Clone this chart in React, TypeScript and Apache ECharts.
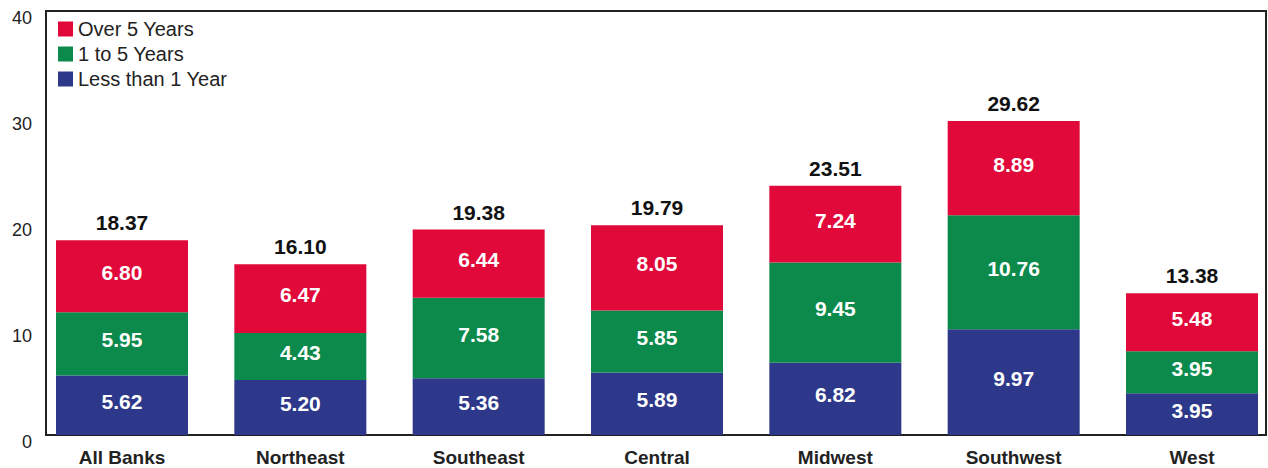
import React, { useEffect, useRef } from "react";
import * as echarts from "echarts";

const categories = ["All Banks", "Northeast", "Southeast", "Central", "Midwest", "Southwest", "West"];
const lessThan1 = [5.62, 5.2, 5.36, 5.89, 6.82, 9.97, 3.95];
const oneTo5 = [5.95, 4.43, 7.58, 5.85, 9.45, 10.76, 3.95];
const over5 = [6.8, 6.47, 6.44, 8.05, 7.24, 8.89, 5.48];
const totals = [18.37, 16.1, 19.38, 19.79, 23.51, 29.62, 13.38];
const totalCaps = [0, 0, 0, 0, 0, 0, 0];
const yTicks = [0, 10, 20, 30, 40];

const FONT = "'Liberation Sans', Arial, Helvetica, sans-serif";
const RED = "#e0093a";
const GREEN = "#0b8a4c";
const BLUE = "#2d388a";

export default function App() {
  const ref = useRef<HTMLDivElement>(null);
  useEffect(() => {
    if (!ref.current) return;
    const chart = echarts.init(ref.current, undefined, { renderer: "svg" });
    const inner = () => ({
      show: true,
      position: "inside" as const,
      offset: [0, -4],
      color: "#fff",
      fontFamily: FONT,
      fontWeight: "bold" as const,
      fontSize: 21,
      formatter: (p: any) => p.value.toFixed(2),
    });
    chart.setOption({
      animation: false,
      backgroundColor: "#fff",
      grid: [
        { left: 46, right: 2, top: 11, bottom: 33, show: true, borderColor: "#222", borderWidth: 2 },
        { left: 122, right: 76, top: 11, bottom: 33 },
      ],
      legend: {
        orient: "vertical",
        left: 53,
        top: 14,
        itemWidth: 15,
        itemHeight: 15,
        itemGap: 5,
        data: ["Over 5 Years", "1 to 5 Years", "Less than 1 Year"],
        textStyle: { fontFamily: FONT, fontSize: 20, color: "#222" },
        icon: "rect",
      },
      xAxis: [
        {
          gridIndex: 0,
          type: "value",
          min: 0,
          max: 1,
          show: false,
        },
        {
          gridIndex: 1,
          type: "category",
          data: categories,
          boundaryGap: false,
          axisLine: { show: false },
          axisTick: { show: false },
          axisLabel: {
            interval: 0,
            margin: 13,
            fontFamily: FONT,
            fontWeight: "bold",
            fontSize: 19,
            color: "#222",
          },
        },
      ],
      yAxis: [
        {
          gridIndex: 0,
          type: "value",
          min: yTicks[0],
          max: yTicks[yTicks.length - 1],
          interval: 10,
          splitLine: { show: false },
          axisLine: { show: false },
          axisTick: { show: false },
          axisLabel: {
            margin: 14,
            fontFamily: FONT,
            fontSize: 18,
            color: "#222",
            verticalAlign: "top",
            lineHeight: 14,
          },
        },
        {
          gridIndex: 1,
          type: "value",
          min: yTicks[0],
          max: yTicks[yTicks.length - 1],
          show: false,
          splitLine: { show: false },
        },
      ],
      series: [
        {
          name: "Less than 1 Year",
          type: "bar",
          stack: "t",
          xAxisIndex: 1,
          yAxisIndex: 1,
          barWidth: 132,
          data: lessThan1,
          itemStyle: { color: BLUE },
          label: inner(),
        },
        {
          name: "1 to 5 Years",
          type: "bar",
          stack: "t",
          xAxisIndex: 1,
          yAxisIndex: 1,
          barWidth: 132,
          data: oneTo5,
          itemStyle: { color: GREEN },
          label: inner(),
        },
        {
          name: "Over 5 Years",
          type: "bar",
          stack: "t",
          xAxisIndex: 1,
          yAxisIndex: 1,
          barWidth: 132,
          data: over5,
          itemStyle: { color: RED },
          label: inner(),
        },
        {
          name: "Total",
          type: "bar",
          stack: "t",
          xAxisIndex: 1,
          yAxisIndex: 1,
          barWidth: 132,
          data: totalCaps,
          itemStyle: { color: RED },
          silent: true,
          label: {
            show: true,
            position: "top",
            distance: 7,
            color: "#111",
            fontFamily: FONT,
            fontWeight: "bold",
            fontSize: 21,
            formatter: (p: any) => totals[p.dataIndex].toFixed(2),
          },
        },
      ],
    });
    return () => chart.dispose();
  }, []);
  return (
    <div
      ref={ref}
      style={{ position: "fixed", left: 0, top: 0, width: 1268, height: 468 }}
    />
  );
}
